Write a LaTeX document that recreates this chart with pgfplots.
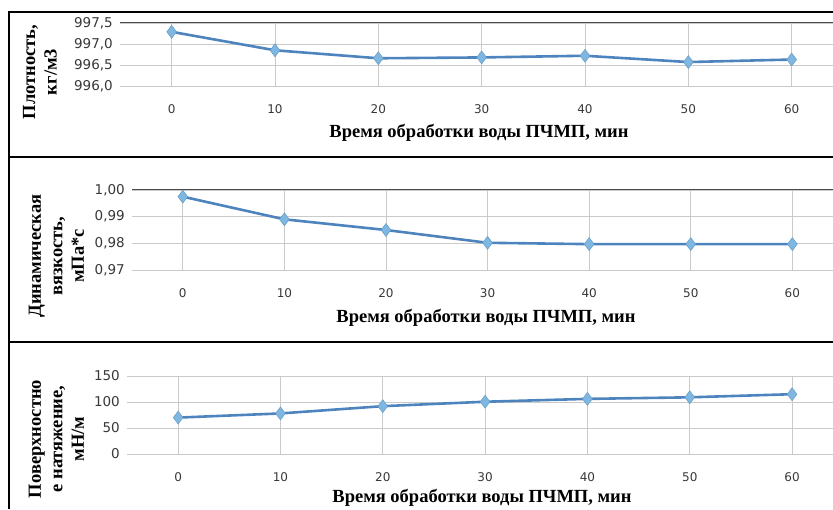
\documentclass[border=0pt]{standalone}
\usepackage{pgfplots}
\pgfplotsset{compat=1.18}
\usepackage{fontspec}
\setmainfont{Liberation Serif}
\newfontfamily\dv{DejaVu Sans}
\definecolor{lineblue}{HTML}{4E84BE}
\definecolor{markblue}{HTML}{7DB7E2}
\definecolor{gridgray}{HTML}{CACACA}
\definecolor{topgray}{HTML}{4A4A4A}
\definecolor{ticktext}{HTML}{383838}
\pgfplotsset{
  panel/.style={
    scale only axis,
    xmin=-0.5, xmax=6.4,
    xtick={0,...,6},
    xticklabels={0,10,20,30,40,50,60},
    xmajorgrids, ymajorgrids,
    major grid style={gridgray, line width=0.9pt},
    major tick length=0pt,
    axis line style={draw=none},
    clip=false,
    /pgf/number format/assume math mode=true,
    /pgf/number format/use comma,
    xticklabel style={font=\dv\fontsize{12}{14}\selectfont, text=ticktext, anchor=center, yshift=-23pt},
    yticklabel style={font=\dv\fontsize{13.5}{16}\selectfont, text=ticktext, anchor=east, inner sep=0pt, xshift=-7pt},
  },
  ser/.style={lineblue, line width=2.6pt, mark=diamond*, mark size=6.5pt,
    mark options={fill=markblue, draw=markblue!85!black, line width=0.5pt}},
}
\newcommand{\lab}{\bfseries\fontsize{18.5}{21.5}\selectfont}
\begin{document}
\begin{tikzpicture}[x=1pt,y=1pt]
\useasboundingbox (0pt,0pt) rectangle (833pt,509pt);
% panel 1
\begin{axis}[panel, at={(120pt,423pt)}, anchor=south west, width=713pt, height=63pt,
  ymin=996, ymax=997.5, ytick={996,996.5,997,997.5},
  yticklabel style={/pgf/number format/.cd, fixed, fixed zerofill, precision=1}]
\draw[topgray, line width=1pt] (rel axis cs:0,1) -- (rel axis cs:1,1);
\addplot[ser] coordinates {(0,997.29) (1,996.85) (2,996.66) (3,996.68) (4,996.72) (5,996.57) (6,996.63)};
\end{axis}
% panel 2
\begin{axis}[panel, at={(132pt,239pt)}, anchor=south west, width=701pt, height=80pt,
  ymin=0.97, ymax=1.0, ytick={0.97,0.98,0.99,1.00},
  yticklabel style={/pgf/number format/.cd, fixed, fixed zerofill, precision=2}]
\draw[topgray, line width=1pt] (rel axis cs:0,1) -- (rel axis cs:1,1);
\addplot[ser] coordinates {(0,0.9975) (1,0.989) (2,0.985) (3,0.9802) (4,0.9797) (5,0.9797) (6,0.9797)};
\end{axis}
% panel 3
\begin{axis}[panel, at={(127pt,55pt)}, anchor=south west, width=706pt, height=78pt,
  ymin=0, ymax=150, ytick={0,50,100,150}]
\addplot[ser] coordinates {(0,70) (1,78) (2,92) (3,100.5) (4,106) (5,109) (6,115)};
\end{axis}
% frame
\draw[line width=2.4pt] (9pt,0pt) -- (9pt,497pt) -- (833pt,497pt);
\draw[line width=2.4pt] (9pt,352pt) -- (833pt,352pt);
\draw[line width=2.4pt] (9pt,167pt) -- (833pt,167pt);
% axis titles
\node[rotate=90, align=center, font=\lab] at (40pt,437pt) {Плотность,\\кг/м3};
\node[rotate=90, align=center, font=\lab] at (56.5pt,253pt) {Динамическая\\вязкость,\\мПа*с};
\node[rotate=90, align=center, font=\lab] at (56.5pt,70pt) {Поверхностно\\е натяжение,\\мН/м};
\node[font=\lab] at (479pt,376pt) {Время обработки воды ПЧМП, мин};
\node[font=\lab] at (486pt,191pt) {Время обработки воды ПЧМП, мин};
\node[font=\lab] at (482pt,11pt) {Время обработки воды ПЧМП, мин};
\end{tikzpicture}
\end{document}
